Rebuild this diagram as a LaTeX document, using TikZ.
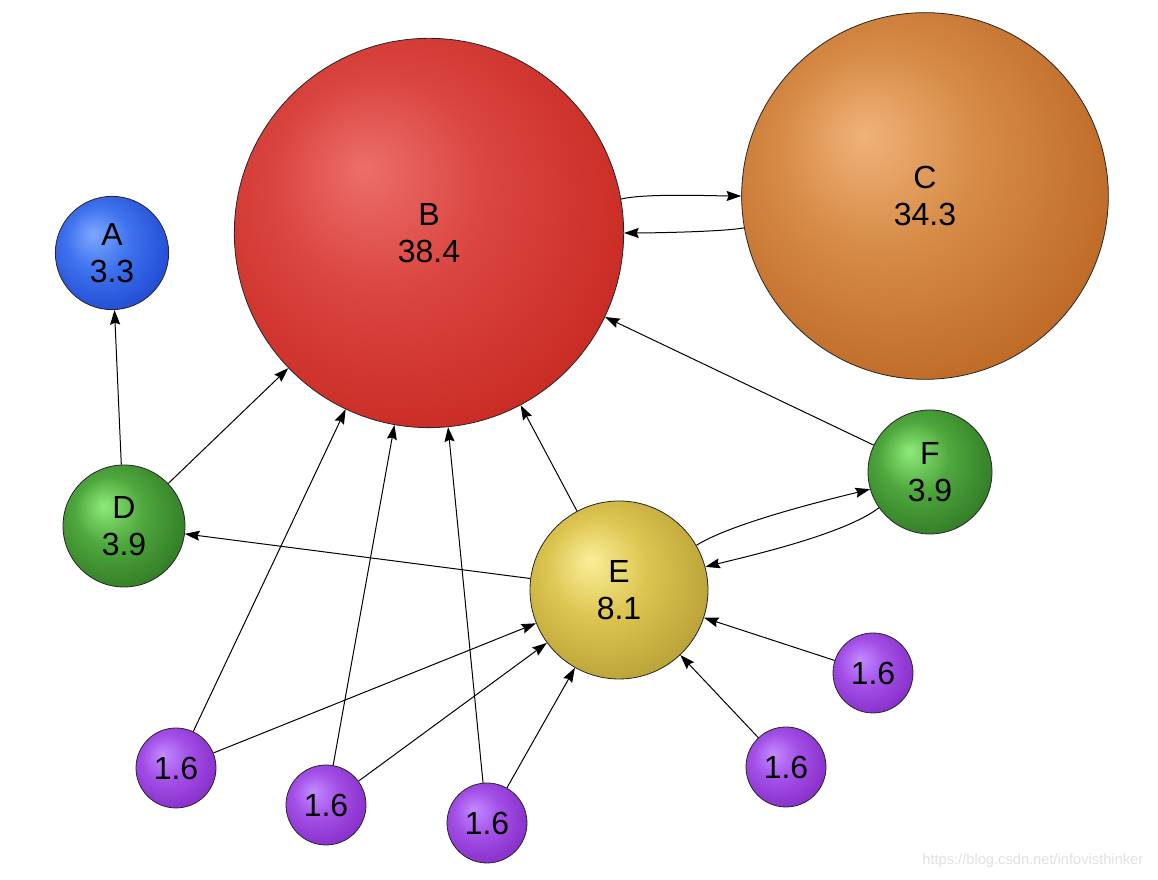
\documentclass[tikz,border=0pt]{standalone}
\usepackage{fontspec}
\setmainfont{Liberation Sans}
\usepackage{tikz}
\usetikzlibrary{arrows.meta}
\definecolor{redhi}{HTML}{EC6E6A}
\definecolor{redmid}{HTML}{DA4540}
\definecolor{redlo}{HTML}{C4241C}
\definecolor{orangehi}{HTML}{F0B278}
\definecolor{orangemid}{HTML}{D58A45}
\definecolor{orangelo}{HTML}{B8611F}
\definecolor{bluehi}{HTML}{7FA8FF}
\definecolor{bluemid}{HTML}{3F73EE}
\definecolor{bluelo}{HTML}{1A40CC}
\definecolor{greenhi}{HTML}{8EEB7A}
\definecolor{greenmid}{HTML}{4FA83E}
\definecolor{greenlo}{HTML}{2A7020}
\definecolor{yellowhi}{HTML}{FBEE9A}
\definecolor{yellowmid}{HTML}{DCC550}
\definecolor{yellowlo}{HTML}{B09830}
\definecolor{purplehi}{HTML}{C38BFF}
\definecolor{purplemid}{HTML}{A451E8}
\definecolor{purplelo}{HTML}{8024C0}
\colorlet{ballhi}{redhi}
\colorlet{ballmid}{redmid}
\colorlet{balllo}{redlo}
\pgfdeclareradialshading[ballhi,ballmid,balllo]{rankshade}{\pgfpoint{-8.5bp}{8.5bp}}{color(0bp)=(ballhi); color(14bp)=(ballmid); color(35bp)=(balllo); color(50bp)=(balllo)}

\begin{document}
\begin{tikzpicture}[
    x=0.75pt, y=0.75pt,
    rankball/.style={circle, draw=black!85, line width=0.6pt, inner sep=0pt, align=center,
        font=\fontsize{24}{28}\selectfont,
        /utils/exec={\colorlet{ballhi}{#1hi}\colorlet{ballmid}{#1mid}\colorlet{balllo}{#1lo}},
        shading=rankshade},
    leaf/.style={rankball=purple, minimum size=60pt},
    arr/.style={-{Stealth[length=11pt, width=7.5pt, inset=1.5pt]}, line width=0.75pt},
]
    \useasboundingbox (0,0) rectangle (1158,880);

    % Main pages
    \node[rankball=red, minimum size=292pt] (b) at (429,647) {B\\38.4};
    \node[rankball=orange, minimum size=275pt] (c) at (925,684) {C\\34.3};
    \node[rankball=blue, minimum size=85pt] (a) at (112,627) {A\\3.3};
    \node[rankball=green, minimum size=91.5pt] (d) at (124,354) {D\\3.9};
    \node[rankball=yellow, minimum size=133.5pt] (e) at (619,290) {E\\8.1};
    \node[rankball=green, minimum size=93pt] (f) at (930,408) {F\\3.9};

    % Small pages
    \node[leaf] (p1) at (176,112) {1.6};
    \node[leaf] (p2) at (326,75) {1.6};
    \node[leaf] (p3) at (487,57) {1.6};
    \node[leaf] (p4) at (873,207) {1.6};
    \node[leaf] (p5) at (786,113) {1.6};

    % Links
    \draw[arr] (b.10) to[out=15, in=180, looseness=0.5] (c.west);
    \draw[arr] (c.190) to[out=190, in=0, looseness=0.5] (b.east);
    \draw[arr] (d) -- (a);
    \draw[arr] (d) -- (b);
    \draw[arr] (e) -- (d);
    \draw[arr] (e) -- (b);
    \draw[arr] (f) -- (b);
    \draw[arr] (e.30) to[out=32, in=194, looseness=0.6] (f.196);
    \draw[arr] (f.215) to[out=218, in=14, looseness=0.6] (e.15);
    \draw[arr] (p1) -- (b);
    \draw[arr] (p1) -- (e);
    \draw[arr] (p2) -- (b);
    \draw[arr] (p2) -- (e);
    \draw[arr] (p3) -- (b);
    \draw[arr] (p3) -- (e);
    \draw[arr] (p4) -- (e);
    \draw[arr] (p5) -- (e);

    % Watermark
    \node[anchor=east, text=black!12, font=\fontsize{11}{13}\selectfont] (mark) at (1148,19) {https://blog.csdn.net/infovisthinker};
\end{tikzpicture}
\end{document}
